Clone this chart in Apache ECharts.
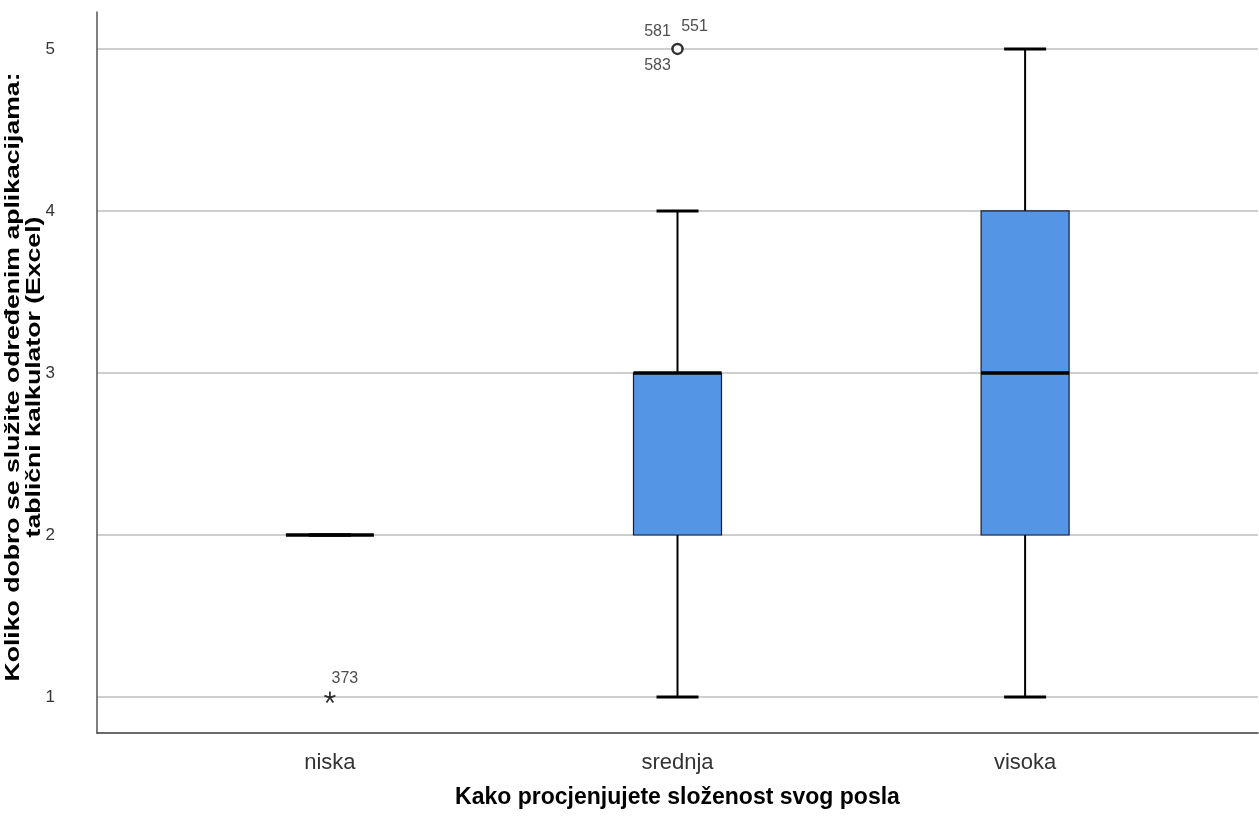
<!DOCTYPE html>
<html>
<head>
<meta charset="utf-8">
<script src="https://cdn.jsdelivr.net/npm/echarts@6/dist/echarts.min.js"></script>
<style>
html,body{margin:0;padding:0;background:#fff;}
#chart{width:1259px;height:832px;}
</style>
</head>
<body>
<div id="chart"></div>
<script>
// ---- data ----
var categories = ['niska', 'srednja', 'visoka'];
var boxMin    = [2, 1, 1];
var boxQ1     = [2, 2, 2];
var boxMedian = [2, 3, 3];
var boxQ3     = [2, 3, 4];
var boxMax    = [2, 4, 5];
var yTicks = [1, 2, 3, 4, 5];
// outliers: category index, value, case labels
var outlierCat    = [1];
var outlierValue  = [5];
var outlierIds    = [['581', '551', '583']];
// extremes (asterisk)
var extremeCat   = [0];
var extremeValue = [1];
var extremeIds   = [['373']];

var yName = 'Koliko dobro se služite određenim aplikacijama:\ntablični kalkulator (Excel)';
var xName = 'Kako procjenjujete složenost svog posla';

// ---- build ----
var boxData = categories.map(function (c, i) {
  return [i, boxMin[i], boxQ1[i], boxMedian[i], boxQ3[i], boxMax[i]];
});

var BOX_W = 88, CAP_W = 42;
function renderBox(params, api) {
  var x = api.value(0);
  var pMin = api.coord([x, api.value(1)]);
  var pQ1 = api.coord([x, api.value(2)]);
  var pMed = api.coord([x, api.value(3)]);
  var pQ3 = api.coord([x, api.value(4)]);
  var pMax = api.coord([x, api.value(5)]);
  var cx = pMin[0];
  var children = [];
  var wStyle = { stroke: '#000', lineWidth: 2 };
  var capStyle = { stroke: '#000', lineWidth: 3 };
  children.push({ type: 'line', shape: { x1: cx, y1: pQ3[1], x2: cx, y2: pMax[1] }, style: wStyle });
  children.push({ type: 'line', shape: { x1: cx, y1: pQ1[1], x2: cx, y2: pMin[1] }, style: wStyle });
  children.push({ type: 'line', shape: { x1: cx - CAP_W / 2, y1: pMax[1], x2: cx + CAP_W / 2, y2: pMax[1] }, style: capStyle });
  children.push({ type: 'line', shape: { x1: cx - CAP_W / 2, y1: pMin[1], x2: cx + CAP_W / 2, y2: pMin[1] }, style: capStyle });
  if (pQ1[1] - pQ3[1] > 0.5) {
    children.push({ type: 'rect', shape: { x: cx - BOX_W / 2, y: pQ3[1], width: BOX_W, height: pQ1[1] - pQ3[1] },
      style: { fill: '#5595e5', stroke: '#1a1a2a', lineWidth: 1.2 } });
  }
  children.push({ type: 'line', shape: { x1: cx - BOX_W / 2, y1: pMed[1], x2: cx + BOX_W / 2, y2: pMed[1] },
    style: { stroke: '#000', lineWidth: 3.5 } });
  return { type: 'group', children: children };
}

var outlierData = [];
outlierCat.forEach(function (c, i) { outlierData.push([c, outlierValue[i]]); });
var extremeData = [];
extremeCat.forEach(function (c, i) { extremeData.push([c, extremeValue[i]]); });

var outLabelOffsets = [[-20, -17], [17, -22], [-20, 17]];
var labelData = [];
outlierCat.forEach(function (c, i) {
  outlierIds[i].forEach(function (id, k) {
    labelData.push({ value: [c, outlierValue[i]], name: id,
      label: { offset: outLabelOffsets[k] } });
  });
});
extremeCat.forEach(function (c, i) {
  extremeIds[i].forEach(function (id) {
    labelData.push({ value: [c, extremeValue[i]], name: id, label: { offset: [15, -18] } });
  });
});

var FONT = 'Liberation Sans, Arial, sans-serif';
var chart = echarts.init(document.getElementById('chart'));
chart.setOption({
  animation: false,
  backgroundColor: '#fff',
  grid: { left: 97, right: 1, top: 12, bottom: 99, containLabel: false, outerBoundsMode: 'none' },
  graphic: [{
    type: 'text', x: 24, y: 377, rotation: Math.PI / 2, scaleX: 1.33, silent: true,
    style: { text: yName, fontSize: 20, fontWeight: 'bold', fontFamily: FONT, fill: '#000',
      align: 'center', verticalAlign: 'middle', lineHeight: 21 }
  }],
  xAxis: {
    type: 'value', min: -0.67, max: 2.67,
    axisLine: { show: true, onZero: false, lineStyle: { color: '#3a3a3a', width: 1.5 } },
    axisTick: { show: false, customValues: [0, 1, 2] },
    splitLine: { show: false },
    axisLabel: { customValues: [0, 1, 2], margin: 19, fontSize: 22, color: '#333', fontFamily: FONT,
      formatter: function (v) { return categories[Math.round(v)] || ''; } },
    name: xName, nameLocation: 'middle', nameGap: 53, nameMoveOverlap: false,
    nameTextStyle: { fontSize: 23, fontWeight: 'bold', color: '#000', fontFamily: FONT }
  },
  yAxis: {
    type: 'value', min: 0.778, max: 5.228,
    axisLine: { show: true, onZero: false, lineStyle: { color: '#555', width: 1.5 } },
    axisTick: { show: false, customValues: yTicks },
    splitLine: { show: true, lineStyle: { color: '#cfcfcf', width: 2 } },
    axisLabel: { customValues: yTicks, margin: 42, fontSize: 17, color: '#333', fontFamily: FONT }
  },
  series: [
    { type: 'custom', renderItem: renderBox, data: boxData, encode: { x: 0, y: [1, 2, 3, 4, 5] }, z: 3 },
    { type: 'scatter', data: outlierData, symbol: 'circle', symbolSize: 10,
      itemStyle: { color: '#fff', borderColor: '#000', borderWidth: 2.5 }, z: 5 },
    { type: 'scatter', data: extremeData, symbol: 'path://M0,-5L0,0M0,0L4.75,-1.55M0,0L2.94,4.05M0,0L-2.94,4.05M0,0L-4.75,-1.55',
      symbolSize: 11, itemStyle: { color: 'none', borderColor: '#000', borderWidth: 1.8 }, z: 5 },
    { type: 'scatter', data: labelData, symbolSize: 0, z: 6, silent: true,
      label: { show: true, position: 'inside', formatter: '{b}', fontSize: 16, color: '#222', fontFamily: FONT } }
  ]
});
</script>
</body>
</html>
